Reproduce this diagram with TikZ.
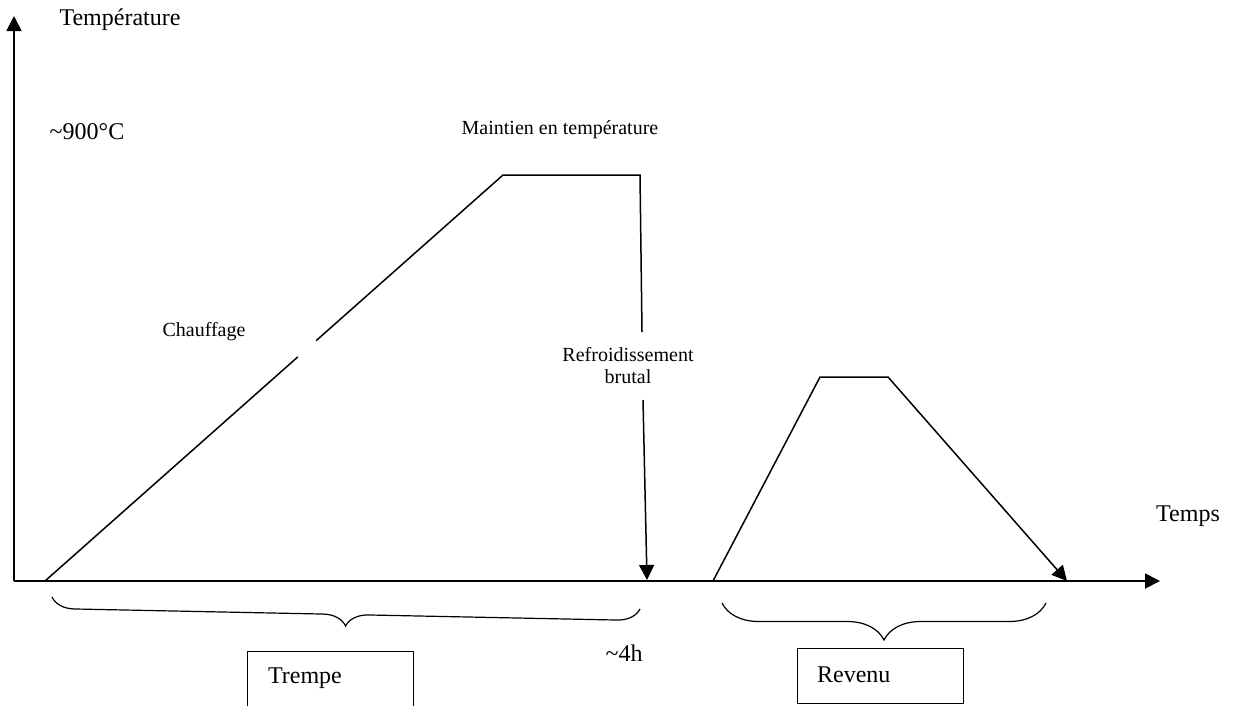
\documentclass[tikz,border=0pt]{standalone}
\usepackage{fontspec}
\setmainfont{Liberation Serif}
\usetikzlibrary{positioning, arrows.meta, calc, decorations.pathreplacing}

\begin{document}
\begin{tikzpicture}[x=1pt, y=-1pt, line width=1.5pt,
  big/.style={font=\fontsize{24}{28}\selectfont},
  small/.style={font=\fontsize{20}{22}\selectfont, align=center},
  tip/.style={-{Triangle[length=15pt,width=15pt]}},
  accolade/.style={decorate, decoration={brace, amplitude=#1}, line width=1.2pt},
  etiquette/.style={draw, line width=1pt, minimum width=166pt, anchor=north west}]
\useasboundingbox (0,0) rectangle (1233,705);

% Axes
\coordinate (O) at (14,581);
\coordinate (ytop) at (14,16);
\coordinate (xend) at (1160,581);
\draw[tip, line width=1.8pt] (O) -- (ytop);
\draw[tip, line width=1.8pt] (O) -- (xend);
\node[big] (temperature) at (120,20) {Température};
\node[big] (temps) at (1188,516) {Temps};
\node[big] (tmax) at (87,132) {\textasciitilde900°C};

% Trempe: chauffage, maintien, refroidissement
\coordinate (t0) at (45,581);
\coordinate (t1) at (503,175);
\coordinate (t2) at (640,175);
\coordinate (t3) at (642,332);
\draw (t0) -- ($(t0)!0.552!(t1)$);
\draw ($(t0)!0.592!(t1)$) -- (t1) -- (t2) -- (t3);
\coordinate (r0) at (643,400);
\coordinate (r1) at (647,580);
\draw[tip] (r0) -- (r1);
\node[small] (maintien) at (560,130) {Maintien en température};
\node[small] (chauffage) at (204,332) {Chauffage};
\node[small] (refroid) at (628,366) {Refroidissement\\brutal};

% Revenu
\coordinate (v0) at (713,581);
\coordinate (v1) at (820,377);
\coordinate (v2) at (888,377);
\coordinate (v3) at (1067,581);
\draw[tip] (v0) -- (v1) -- (v2) -- (v3);

% Accolades
\coordinate (b1) at (640,609);
\coordinate (b2) at (52,597);
\draw[accolade=23pt] (b1) -- (b2);
\coordinate (b3) at (1046,603);
\coordinate (b4) at (722,603);
\draw[accolade=37pt] (b3) -- (b4);
\node[big] (duree) at (624,653) {\textasciitilde4h};

% Cadres
\node[etiquette, minimum height=70pt] (trempebox) at (247,651) {};
\node[big, anchor=west] (trempe) at (264,678) {Trempe};
\node[etiquette, minimum height=55pt] (revenubox) at (797,648) {};
\node[big, anchor=west] (revenu) at (813,675) {Revenu};
\end{tikzpicture}
\end{document}
